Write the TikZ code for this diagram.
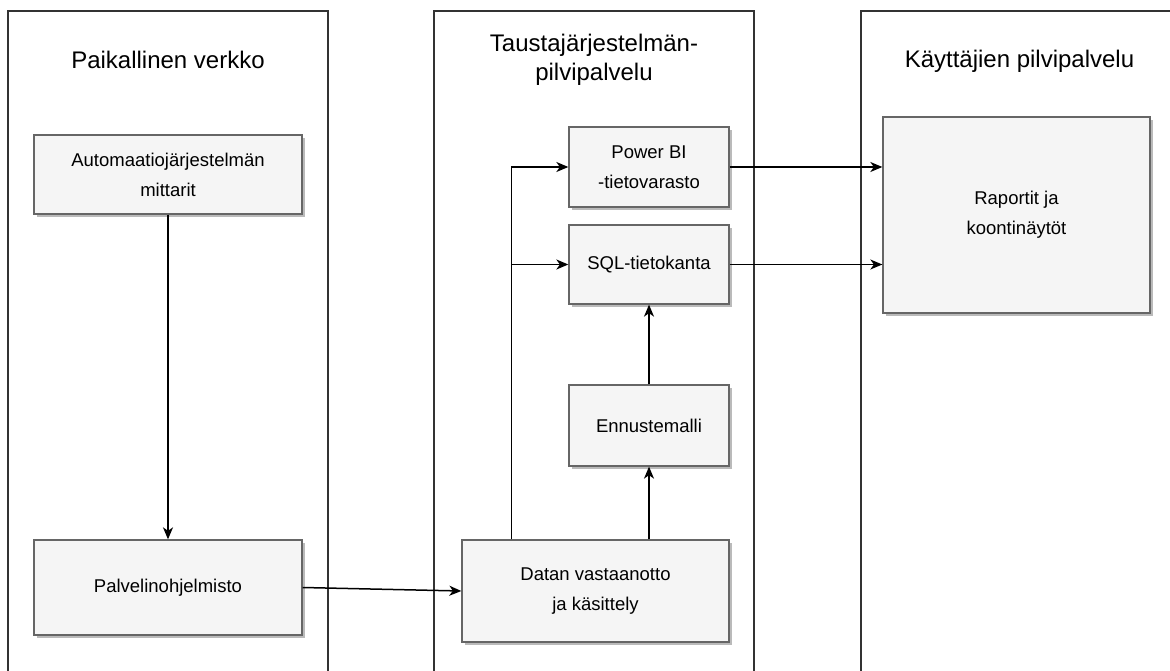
\documentclass[tikz,border=0pt]{standalone}
\usepackage{fontspec}
\setmainfont{Liberation Sans}
\usetikzlibrary{arrows.meta,shadows,calc}
\definecolor{boxfill}{HTML}{F5F5F5}
\definecolor{boxline}{HTML}{666666}
\definecolor{frameline}{HTML}{333333}
\tikzset{
  procbox/.style={draw=boxline, fill=boxfill, line width=1.3pt, align=center,
    font=\fontsize{18.5}{30}\selectfont, inner sep=0pt,
    drop shadow={shadow xshift=3pt, shadow yshift=-3pt, fill=black!45, opacity=0.6}},
  frametitle/.style={align=center, font=\fontsize{24}{29}\selectfont, inner sep=0pt},
  framestyle/.style={draw=frameline, line width=1.4pt},
  conn/.style={draw=black, line width=1.5pt, -{Stealth[length=12pt,width=10pt,inset=3.5pt]}},
}
\begin{document}
\begin{tikzpicture}[x=1pt,y=-1pt]
\useasboundingbox (0,0) rectangle (1170,671);
\fill[white] (0,0) rectangle (1170,671);
% frames
\draw[framestyle] (8,671) -- (8,11) -- (328,11) -- (328,671);
\draw[framestyle] (434,671) -- (434,11) -- (754,11) -- (754,671);
\draw[framestyle] (861,671) -- (861,11) -- (1170,11);
% titles
\node[frametitle] (t1) at (168,60) {Paikallinen verkko};
\node[frametitle] (t2) at (594,60) {Taustajärjestelmän-\\pilvipalvelu};
\node[frametitle] (t3) at (1019.5,61) {Käyttäjien pilvipalvelu};
% boxes
\node[procbox, minimum width=268pt, minimum height=79pt] (auto) at (168,174.5) {Automaatiojärjestelmän\\mittarit};
\node[procbox, minimum width=268pt, minimum height=95pt] (palv) at (168,587.5) {Palvelinohjelmisto};
\node[procbox, minimum width=160pt, minimum height=80pt] (pbi) at (649,167) {Power BI\\-tietovarasto};
\node[procbox, minimum width=160pt, minimum height=79pt] (sql) at (649,264.5) {SQL-tietokanta};
\node[procbox, minimum width=160pt, minimum height=81pt] (enn) at (649,425.5) {Ennustemalli};
\node[procbox, minimum width=267pt, minimum height=102pt] (datan) at (595.5,591) {Datan vastaanotto\\ja käsittely};
\node[procbox, minimum width=267pt, minimum height=196pt] (rap) at (1016.5,215) {Raportit ja\\koontinäytöt};
% connectors
\coordinate (split) at ($(datan.north west)+(50,0)$);
\draw[conn] (auto.south) -- (palv.north);
\draw[conn] (palv.east) -- (datan.west);
\draw[conn] (split) |- (pbi.west);
\draw[conn] (split) |- (sql.west);
\draw[conn] (datan.north -| enn.south) -- (enn.south);
\draw[conn] (enn.north) -- (sql.south);
\draw[conn] (pbi.east) -- (rap.west |- pbi.east);
\draw[conn] (sql.east) -- (rap.west |- sql.east);
\end{tikzpicture}
\end{document}
